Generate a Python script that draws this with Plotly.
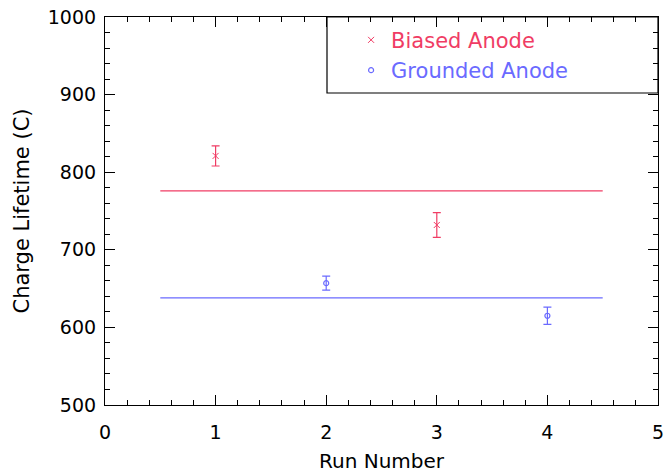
import plotly.graph_objects as go

# Data
biased_run = [1, 3]
biased_val = [821, 732]
biased_err = [13, 16]
grounded_run = [2, 4]
grounded_val = [657, 615]
grounded_err = [9, 11]
mean_span = [0.5, 4.5]
biased_mean = 776
grounded_mean = 638
x_range = [0, 5]
y_range = [500, 1000]

RED = "#f03c64"
BLUE = "#6a6aff"
FONT = "DejaVu Sans"

fig = go.Figure()

fig.add_trace(go.Scatter(
    x=mean_span, y=[biased_mean] * len(mean_span), mode="lines",
    line=dict(color=RED, width=1.2), showlegend=False, hoverinfo="skip"))
fig.add_trace(go.Scatter(
    x=mean_span, y=[grounded_mean] * len(mean_span), mode="lines",
    line=dict(color=BLUE, width=1.2), showlegend=False, hoverinfo="skip"))

fig.add_trace(go.Scatter(
    x=biased_run, y=biased_val, mode="markers",
    name="<span style='color:%s'>Biased Anode</span>" % RED,
    marker=dict(symbol="x-thin", size=6, color=RED, line=dict(color=RED, width=1)),
    error_y=dict(type="data", array=biased_err, color=RED, thickness=1.2, width=4)))
fig.add_trace(go.Scatter(
    x=grounded_run, y=grounded_val, mode="markers",
    name="<span style='color:%s'>Grounded Anode</span>" % BLUE,
    marker=dict(symbol="circle-open", size=5, color=BLUE, line=dict(color=BLUE, width=1.2)),
    error_y=dict(type="data", array=grounded_err, color=BLUE, thickness=1.2, width=4)))

# invisible trace to carry the mirrored (top/right) tick axes
fig.add_trace(go.Scatter(x=[None], y=[None], xaxis="x2", yaxis="y2",
                         showlegend=False, hoverinfo="skip"))

tick_common = dict(
    ticks="inside", ticklen=10, tickwidth=1.2, tickcolor="black",
    showgrid=False, zeroline=False, automargin=False,
)

fig.update_layout(
    xaxis=dict(
        range=x_range, dtick=1, tick0=0,
        showline=True, linecolor="black", linewidth=1.2,
        minor=dict(ticks="inside", ticklen=5, dtick=0.2, tickwidth=1.2, tickcolor="black", showgrid=False),
        tickfont=dict(family=FONT, size=19, color="black"),
        ticklabelstandoff=10, ticklabeloverflow="allow",
        title=dict(text="Run Number", font=dict(family=FONT, size=20, color="black"), standoff=12),
        **tick_common),
    yaxis=dict(
        range=y_range, dtick=100, tick0=500,
        showline=True, linecolor="black", linewidth=1.2,
        minor=dict(ticks="inside", ticklen=5, dtick=20, tickwidth=1.2, tickcolor="black", showgrid=False),
        tickfont=dict(family=FONT, size=19, color="black"),
        ticklabelstandoff=4,
        title=dict(text="Charge Lifetime (C)", font=dict(family=FONT, size=21, color="black"), standoff=12),
        **tick_common),
    xaxis2=dict(
        range=x_range, dtick=1, tick0=0, overlaying="x", side="top",
        showline=True, linecolor="black", linewidth=1.2, showticklabels=False,
        minor=dict(ticks="inside", ticklen=5, dtick=0.2, tickwidth=1.2, tickcolor="black", showgrid=False),
        **tick_common),
    yaxis2=dict(
        range=y_range, dtick=100, tick0=500, overlaying="y", side="right",
        showline=True, linecolor="black", linewidth=1.2, showticklabels=False,
        minor=dict(ticks="inside", ticklen=5, dtick=20, tickwidth=1.2, tickcolor="black", showgrid=False),
        **tick_common),
)

# legend frame
fig.add_shape(type="rect", xref="paper", yref="paper",
              x0=(327 - 105) / 553, x1=1, y0=1 - (93 - 17) / 388, y1=1,
              line=dict(color="black", width=1.2), fillcolor="rgba(0,0,0,0)")

fig.update_layout(
    width=664, height=475,
    margin=dict(l=105, r=6, t=17, b=70, autoexpand=False),
    paper_bgcolor="white", plot_bgcolor="white",
    font=dict(family=FONT, size=20, color="black"),
    legend=dict(x=0.445, y=0.993, xanchor="left", yanchor="top",
                bgcolor="rgba(0,0,0,0)", borderwidth=0,
                font=dict(family=FONT, size=21), tracegroupgap=0, itemwidth=30),
    showlegend=True,
)

fig.write_html("out.html")
